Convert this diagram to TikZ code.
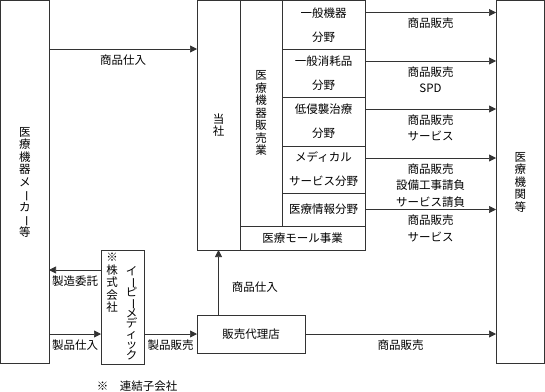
\documentclass[tikz,border=0pt]{standalone}
\usepackage{fontspec}
\setmainfont{Noto Sans CJK JP}
\usepackage{graphicx}
\usetikzlibrary{positioning,arrows.meta}
\newcommand{\vbar}{\rotatebox[origin=c]{-90}{ー}}
\newcommand{\vfont}{\fontsize{11.5}{12.5}\selectfont\lineskiplimit=-8pt\relax}
\newcommand{\vfonttight}{\fontsize{11.5}{10.5}\selectfont\lineskiplimit=-8pt\relax}
\newcommand{\lblfont}{\fontsize{11.5}{16.5}\selectfont\lineskiplimit=-8pt\relax}

\begin{document}
\begin{tikzpicture}[x=1pt, y=-1pt, node distance=0pt,
      box/.style={rectangle, draw=black!80, line width=0.8pt, inner sep=0pt,
                  outer sep=0pt},
      vtext/.style={align=center, inner sep=0pt, font=\vfont},
      cell/.style={box, minimum width=83pt, align=center,
                  font=\fontsize{11.5}{24}\selectfont},
      flow/.style={draw=black!80, line width=0.7pt,
                  -{Triangle[length=7pt,width=7pt]}},
      lbl/.style={align=center, inner sep=0pt, font=\lblfont}]
    \useasboundingbox (0,0) rectangle (545,391);
    % outer parties
    \node[box, vtext, minimum width=48.5pt, minimum height=363pt] (maker)
      at (24.75,182) {医\\療\\機\\器\\メ\\\vbar\\カ\\\vbar\\等};
    \node[box, vtext, minimum width=48.5pt, minimum height=363pt] (hospital)
      at (520.25,182) {医\\療\\機\\関\\等};
    % company block
    \node[box, vtext, minimum width=43pt, minimum height=249.5pt] (tousha)
      at (218.5,125.25) {当\\社};
    \node[box, vtext, minimum width=42pt, minimum height=225.5pt,
      anchor=north west] (hanbai) at (240,0.5) {医\\療\\機\\器\\販\\売\\業};
    \node[cell, minimum height=48.5pt, anchor=north west] (kiki)
      at (282,0.5) {一般機器\\分野};
    \node[cell, minimum height=48pt, below=of kiki] (shomo) {一般消耗品\\分野};
    \node[cell, minimum height=49pt, below=of shomo] (teishin) {低侵襲治療\\分野};
    \node[cell, minimum height=47pt, below=of teishin] (medical)
      {メディカル\\サービス分野};
    \node[cell, minimum height=33pt, below=of medical] (joho) {医療情報分野};
    \node[box, minimum width=125pt, minimum height=24pt, anchor=north east,
      font=\fontsize{11.5}{13}\selectfont] (mall) at (joho.south east) {医療モール事業};
    % subsidiary and agent
    \node[box, minimum width=43pt, minimum height=114pt] (ebm) at (122.5,307) {};
    \node[vtext] (ebmnote) at (112,283) {※\\株\\式\\会\\社};
    \node[vtext, font=\vfonttight] (ebmname)
      at (131.5,313) {イ\\\vbar\\ピ\\\vbar\\メ\\デ\\ィ\\ッ\\ク};
    \node[box, minimum width=108pt, minimum height=38pt,
      font=\fontsize{11.5}{13}\selectfont] (dairi) at (251,334) {販売代理店};
    \node[lbl] (note) at (137,386) {※　連結子会社};
    % sales to hospitals
    \draw[flow] ([yshift=-12pt]kiki.north east)
      -- ([yshift=-12pt]kiki.north east -| hospital.west)
      node[lbl, midway, below=5pt] {商品販売};
    \draw[flow] ([yshift=-12pt]shomo.north east)
      -- ([yshift=-12pt]shomo.north east -| hospital.west)
      node[lbl, midway, below=5pt] {商品販売\\SPD};
    \draw[flow] ([yshift=-12pt]teishin.north east)
      -- ([yshift=-12pt]teishin.north east -| hospital.west)
      node[lbl, midway, below=5pt] {商品販売\\サービス};
    \draw[flow] ([yshift=-12pt]medical.north east)
      -- ([yshift=-12pt]medical.north east -| hospital.west)
      node[lbl, midway, below=5pt] {商品販売\\設備工事請負\\サービス請負};
    \draw[flow] (joho.east) -- (joho.east -| hospital.west)
      node[lbl, midway, below=5pt] {商品販売\\サービス};
    % purchasing and manufacturing
    \draw[flow] (maker.east |- kiki.south) -- (tousha.west |- kiki.south)
      node[lbl, midway, below=5pt] {商品仕入};
    \draw[flow] ([yshift=-20pt]ebm.north west)
      -- ([yshift=-20pt]ebm.north west -| maker.east)
      node[lbl, midway, below=5pt] {製造委託};
    \draw[flow] (maker.east |- dairi) -- (ebm.west |- dairi)
      node[lbl, midway, below=5pt] {製品仕入};
    \draw[flow] (ebm.east |- dairi) -- (dairi.west)
      node[lbl, midway, below=5pt] {製品販売};
    \draw[flow] (dairi.north -| tousha.south) -- (tousha.south)
      node[lbl, pos=0.43, right=13pt] {商品仕入};
    \draw[flow] (dairi.east) -- (dairi.east -| hospital.west)
      node[lbl, midway, below=5pt] {商品販売};
  \end{tikzpicture}
\end{document}
